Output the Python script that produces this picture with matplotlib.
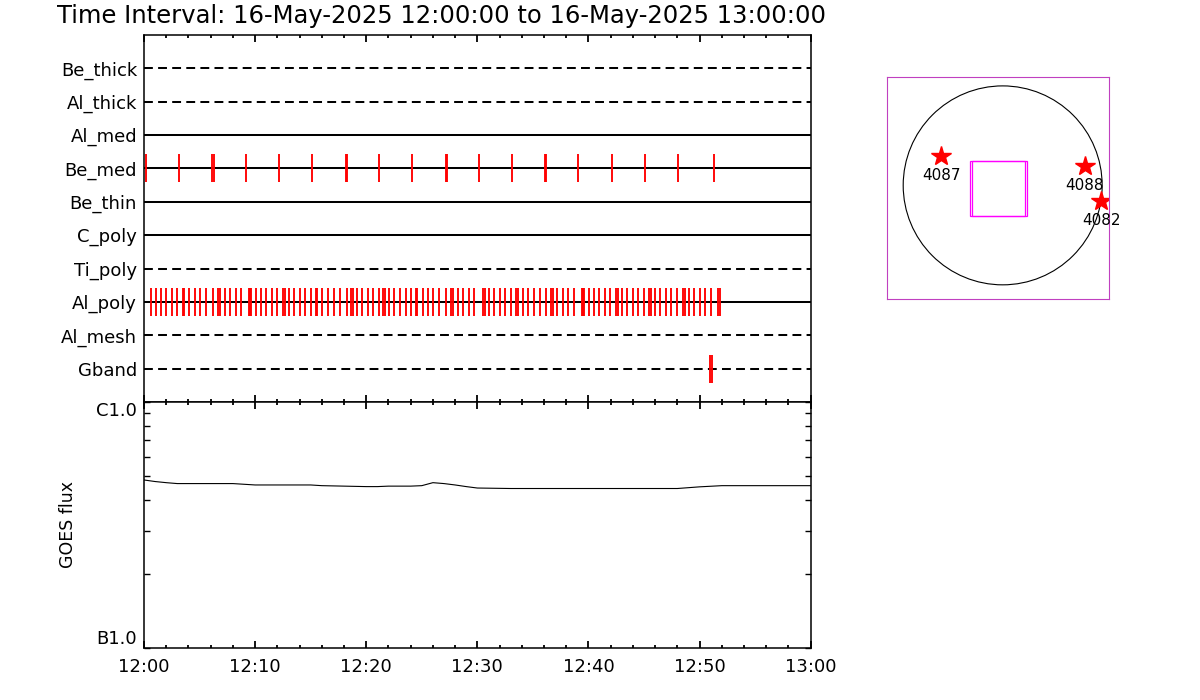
import matplotlib
matplotlib.use("Agg")
import matplotlib.pyplot as plt
from matplotlib.patches import Circle, Rectangle
from matplotlib.ticker import FixedLocator, LogLocator, NullFormatter

plt.rcParams['font.family'] = ['DejaVu Sans']

title = "Time Interval: 16-May-2025 12:00:00 to 16-May-2025 13:00:00"

# filter rows, bottom to top
filters = ['Gband', 'Al_mesh', 'Al_poly', 'Ti_poly', 'C_poly',
           'Be_thin', 'Be_med', 'Al_med', 'Al_thick', 'Be_thick']
solid_rows = ['Al_poly', 'C_poly', 'Be_thin', 'Be_med', 'Al_med']

# exposure times, minutes after 12:00
be_med_times = [0.15, 3.15, 6.09, 6.30, 9.15, 12.15, 15.12, 18.15, 18.30,
                21.15, 24.12, 27.16, 27.30, 30.15, 33.10, 36.07, 36.21,
                39.09, 42.12, 45.09, 48.09, 51.30]
al_poly_times = [0.60, 1.05, 1.50, 2.01, 2.49, 3.00, 3.52, 3.62, 4.08, 4.56,
                 5.07, 5.61, 6.24, 6.70, 6.80, 7.26, 7.74, 8.25, 8.73, 9.44,
                 9.54, 9.64, 10.05, 10.50, 11.01, 11.52, 12.00, 12.55, 12.65,
                 13.05, 13.50, 14.01, 14.52, 15.00, 15.49, 15.59, 16.05,
                 16.59, 17.10, 17.67, 18.24, 18.67, 18.77, 19.20, 19.65,
                 20.13, 20.64, 21.12, 21.55, 21.65, 22.05, 22.53, 23.04,
                 23.55, 24.06, 24.49, 24.59, 25.08, 25.56, 26.04, 26.58,
                 27.18, 27.67, 27.77, 28.23, 28.74, 29.25, 29.73, 30.55,
                 30.65, 31.05, 31.50, 32.01, 32.49, 33.00, 33.52, 33.62,
                 34.08, 34.59, 35.07, 35.61, 36.21, 36.67, 36.77, 37.20,
                 37.68, 38.19, 38.67, 39.44, 39.54, 39.64, 40.02, 40.47,
                 40.98, 41.46, 41.97, 42.52, 42.62, 43.02, 43.47, 43.98,
                 44.46, 44.97, 45.49, 45.59, 45.99, 46.44, 46.95, 47.46,
                 48.00, 48.55, 48.65, 49.05, 49.53, 50.01, 50.49, 51.00,
                 51.70, 51.80]
gband_times = [50.97, 51.13]
exposures = {'Be_med': be_med_times, 'Al_poly': al_poly_times, 'Gband': gband_times}

# GOES flux (W/m^2)
goes_min = [0, 1, 2, 3, 5, 8, 9, 10, 12, 15, 16, 18, 20, 21, 22, 24, 25, 26,
            27, 28, 29, 30, 33, 36, 40, 44, 48, 50, 52, 55, 58, 60]
goes_flux = [4.82e-7, 4.75e-7, 4.70e-7, 4.66e-7, 4.66e-7, 4.66e-7, 4.63e-7,
             4.60e-7, 4.60e-7, 4.60e-7, 4.57e-7, 4.55e-7, 4.53e-7, 4.53e-7,
             4.55e-7, 4.55e-7, 4.57e-7, 4.70e-7, 4.66e-7, 4.60e-7, 4.53e-7,
             4.47e-7, 4.45e-7, 4.45e-7, 4.45e-7, 4.45e-7, 4.45e-7, 4.52e-7,
             4.57e-7, 4.57e-7, 4.57e-7, 4.57e-7]
goes_ticks = [1e-7, 1e-6]
goes_labels = ['B1.0', 'C1.0']

time_ticks = [0, 10, 20, 30, 40, 50, 60]
time_labels = ['12:00', '12:10', '12:20', '12:30', '12:40', '12:50', '13:00']

# solar disk map (arcsec)
sun_radius = 950
fov_x = [-52, -31]
fov_y = [-27, -27]
fov_size = 527
ar_x = [-586, 784, 941]
ar_y = [284, 182, -153]
ar_num = ['4087', '4088', '4082']

fig = plt.figure(figsize=(12, 7), dpi=100)
fig.text(57 / 1200, 1 - 16 / 700, title, fontsize=17.5, va='center', ha='left')

# ---- exposure timeline ----
ax1 = fig.add_axes([0.12, 0.4257, 0.5556, 0.5243])
ax1.set_xlim(0, 60)
ax1.set_ylim(0, 11)
for i, name in enumerate(filters):
    y = i + 1
    if name in solid_rows:
        ax1.plot([0, 60], [y, y], color='black', lw=1.45)
    else:
        ax1.plot([0, 60], [y, y], color='black', lw=1.45, dashes=(4.4, 2.6))
    if name in exposures:
        ax1.vlines(exposures[name], y - 0.42, y + 0.42, color='red', lw=1.35)
ax1.set_yticks(range(1, len(filters) + 1))
ax1.set_yticklabels(filters, fontsize=13)
ax1.tick_params(axis='y', length=0, pad=5)
ax1.set_xticks(time_ticks)
ax1.xaxis.set_minor_locator(FixedLocator(range(0, 61, 2)))
ax1.tick_params(axis='x', which='both', direction='in', top=True, bottom=True,
                labelbottom=False, width=1.3)
ax1.tick_params(axis='x', which='major', length=5)
ax1.tick_params(axis='x', which='minor', length=2.5)
for s in ax1.spines.values():
    s.set_linewidth(1.1)

# ---- GOES ----
ax2 = fig.add_axes([0.12, 0.0743, 0.5556, 0.3514])
ax2.plot(goes_min, goes_flux, color='black', lw=0.8)
ax2.set_yscale('log')
ax2.set_xlim(0, 60)
ax2.set_ylim(1e-7, 1e-6)
ax2.set_yticks(goes_ticks)
ax2.set_yticklabels(goes_labels, fontsize=13)
for lab, va in zip(ax2.get_yticklabels(), ['bottom', 'top']):
    lab.set_va(va)
ax2.yaxis.set_minor_locator(LogLocator(base=10, subs=range(2, 10)))
ax2.yaxis.set_minor_formatter(NullFormatter())
ax2.tick_params(axis='y', which='both', direction='in', left=True, right=True,
                length=4.3, width=1.0, pad=5)
ax2.set_xticks(time_ticks)
ax2.set_xticklabels(time_labels, fontsize=13)
ax2.xaxis.set_minor_locator(FixedLocator(range(0, 61, 2)))
ax2.tick_params(axis='x', which='both', direction='in', top=True, bottom=True,
                width=1.3, pad=7)
ax2.tick_params(axis='x', which='major', length=5)
ax2.tick_params(axis='x', which='minor', length=2.5)
for s in ax2.spines.values():
    s.set_linewidth(1.1)
fig.text(0.057, 1 - 524 / 700, 'GOES flux', rotation=90, fontsize=12.5,
         ha='center', va='center')

# ---- disk map ----
ax3 = fig.add_axes([0.7394, 0.5729, 0.185, 0.3171])
ax3.set_xlim(-1102, 1018)
ax3.set_ylim(-1085, 1035)
ax3.set_xticks([])
ax3.set_yticks([])
for s in ax3.spines.values():
    s.set_color('#c040c0')
    s.set_linewidth(0.8)
ax3.add_patch(Circle((0, 0), sun_radius, fill=False, color='black', lw=0.8))
for fx, fy in zip(fov_x, fov_y):
    ax3.add_patch(Rectangle((fx - fov_size / 2, fy - fov_size / 2), fov_size, fov_size,
                            fill=False, edgecolor='#ff00ff', lw=0.9))
ax3.plot(ar_x, ar_y, ls='none', marker='*', ms=15, color='red', mec='red')
for x, y, n in zip(ar_x, ar_y, ar_num):
    ax3.annotate(n, (x, y), xytext=(0, -14), textcoords='offset points',
                 ha='center', va='center', fontsize=11, annotation_clip=False)

fig.savefig('out.png', dpi=100)
